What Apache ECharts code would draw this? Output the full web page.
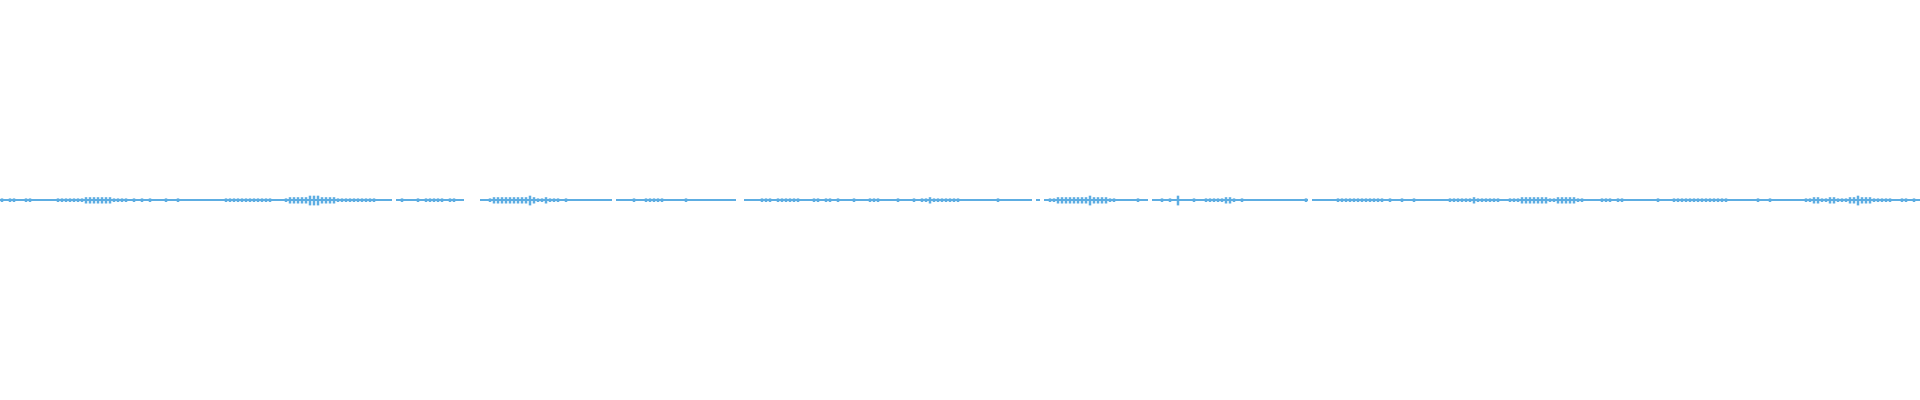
<!DOCTYPE html>
<html>
<head>
<meta charset="utf-8">
<script src="https://cdn.jsdelivr.net/npm/echarts@6/dist/echarts.min.js"></script>
<style>
html,body{margin:0;padding:0;background:#ffffff;}
#chart{width:1920px;height:400px;}
</style>
</head>
<body>
<div id="chart"></div>
<script>
// Waveform envelope in 4px-wide bins (480 bins across the width).
// Each digit is an amplitude level (0 = silence / no trace).
const seg1 = "212211221111112222222333333322221212121112112111111111112222";
const seg2 = "222222221112333334443333222222222211110121112122222122110000";
const seg3 = "112333333333432232221211111111111011112112222211111211111111";
const seg4 = "111100111122212222221112212212111211122211112111212232222222";
const seg5 = "111111111211111111010122333333334333322111112110112121411121";
const seg6 = "122222332121111111111111112011111122222222222212112112111111";
const seg7 = "112222223222222112223333333223333322111122212211111111211122";
const seg8 = "222222222222111111121121111111122332233222334333222221122121";
// amplitude (fraction of full scale) for each level
const levelAmp = [0, 0.005, 0.01, 0.0175, 0.027];

const levels = (seg1+seg2+seg3+seg4+seg5+seg6+seg7+seg8).split("").map(Number);
const categories = levels.map((_, i) => i);
const baseUpper = levels.map(l => l > 0 ? levelAmp[1] : null);
const baseLower = levels.map(l => l > 0 ? -levelAmp[1] : null);
const peakUpper = levels.map(l => l > 1 ? levelAmp[l] * 0.8 : null);
const peakLower = levels.map(l => l > 1 ? -levelAmp[l] : null);

const color = '#5dade2';
const chart = echarts.init(document.getElementById('chart'), null, {renderer:'canvas'});
chart.setOption({
  animation:false,
  backgroundColor:'#ffffff',
  grid:{left:0,right:0,top:0,bottom:0},
  xAxis:[
    {type:'category',data:categories,show:false},
    {type:'category',data:categories,show:false}
  ],
  yAxis:{type:'value',min:-1,max:1,show:false},
  series:[
    {type:'bar',xAxisIndex:0,data:baseUpper,barWidth:'100%',barGap:'-100%',itemStyle:{color:color},silent:true},
    {type:'bar',xAxisIndex:0,data:baseLower,barWidth:'100%',barGap:'-100%',itemStyle:{color:color},silent:true},
    {type:'bar',xAxisIndex:1,data:peakUpper,barWidth:2.5,barGap:'-100%',itemStyle:{color:color},silent:true},
    {type:'bar',xAxisIndex:1,data:peakLower,barWidth:2.5,barGap:'-100%',itemStyle:{color:color},silent:true}
  ]
});
</script>
</body>
</html>
